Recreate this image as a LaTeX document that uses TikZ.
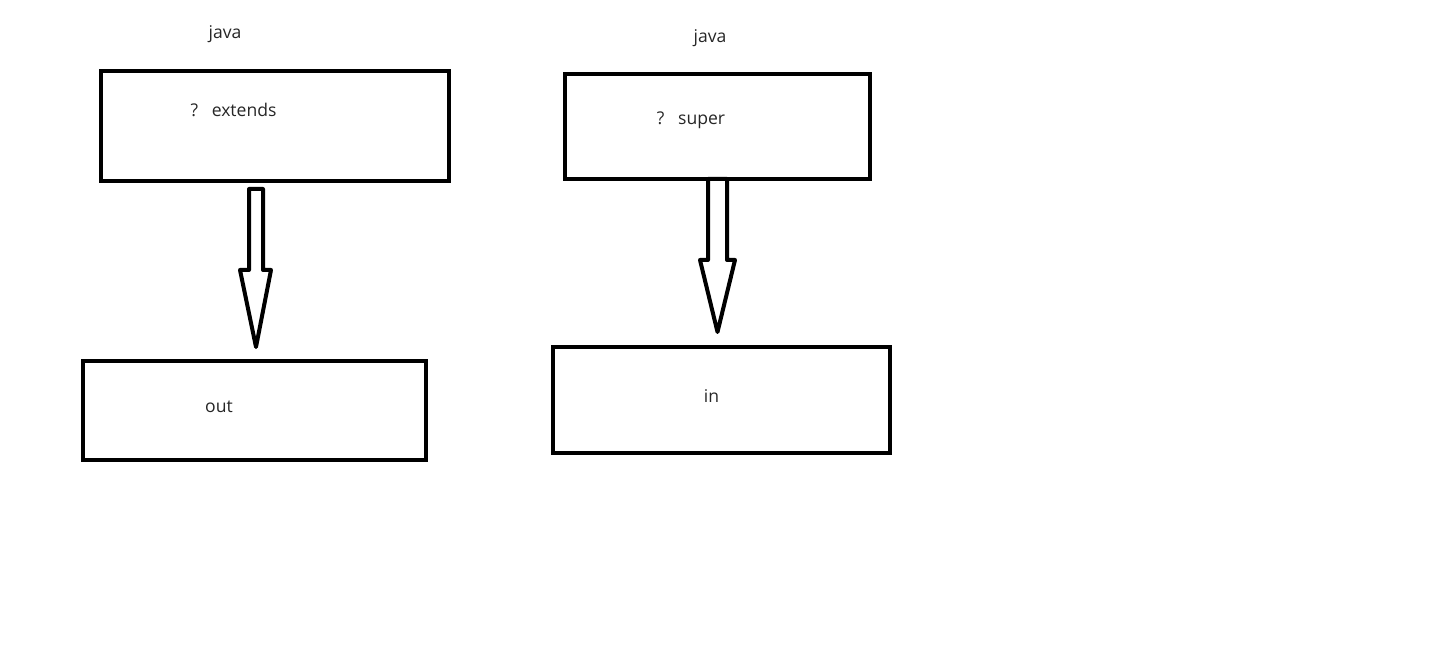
\documentclass[tikz,border=0pt]{standalone}
\usepackage{fontspec}
\setmainfont{Open Sans}
\usetikzlibrary{calc}

\begin{document}
\begin{tikzpicture}[x=0.2mm,y=-0.2mm,
	box/.style={draw,line width=0.8mm,outer sep=0pt,inner sep=0pt},
	word/.style={inner sep=0pt,anchor=base,font=\fontsize{10}{12}\selectfont,text=black!85},
	hollow/.style={draw,line width=0.8mm,line join=round}]
	\useasboundingbox (0,0) rectangle (1438,648);
	
	\node[word] at (225,39){java};
	\node[box,minimum width=69.6mm,minimum height=22mm] at (275,126)(ext){};
	\node[word] at (233.5,117){?~~~extends};
	\node[box,minimum width=68.6mm,minimum height=19.8mm] at (254.5,410.5)(out){};
	\node[word] at (219,413){out};
	\coordinate (t1) at (256,347);
	\draw[hollow]($(ext.south -| t1)+(-7,8)$)-- ++(0,81)-- ++(-9,0)--(t1)-- ++(15,-77)-- ++(-8,0)-- ++(0,-81)--cycle;
	
	\node[word] at (710,43){java};
	\node[box,minimum width=61mm,minimum height=21mm] at (717.5,126.5)(sup){};
	\node[word] at (691,125){?~~~super};
	\node[box,minimum width=67.4mm,minimum height=21.2mm] at (721.5,400)(in){};
	\node[word] at (711.5,403){in};
	\coordinate (t2) at (717.5,332);
	\draw[hollow]($(sup.south -| t2)+(-9.5,0)$)-- ++(0,81)-- ++(-8,0)--(t2)-- ++(17.5,-72)-- ++(-8,0)-- ++(0,-81)--cycle;
	
\end{tikzpicture}
\end{document}
